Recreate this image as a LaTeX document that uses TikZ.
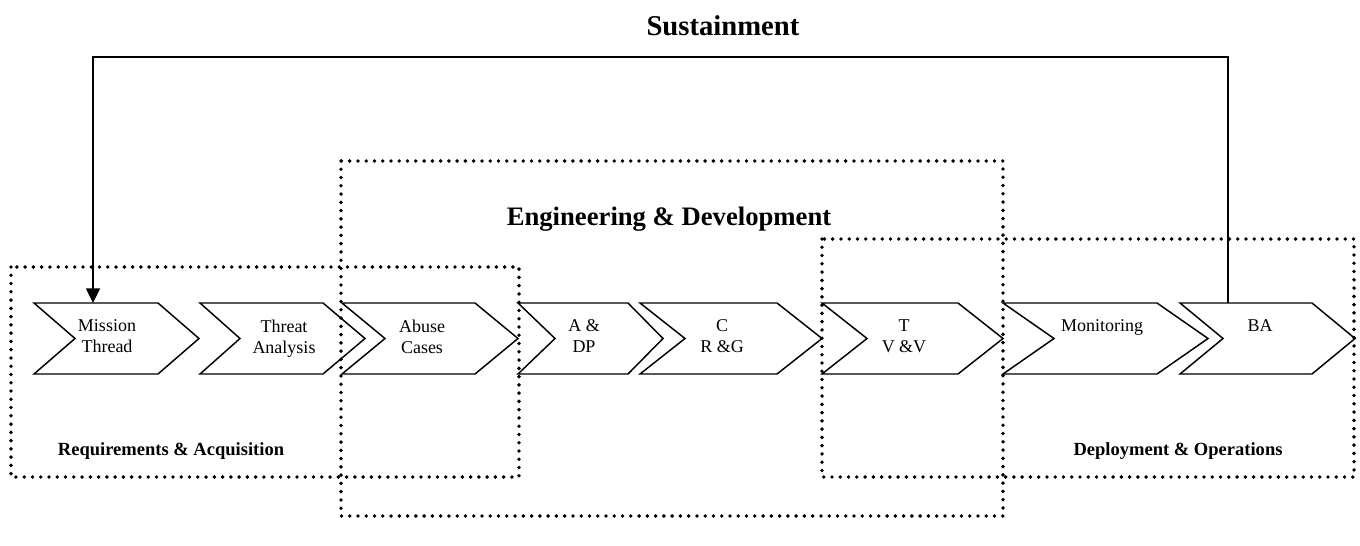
\documentclass[tikz,border=0pt]{standalone}
\usepackage{fontspec}
\setmainfont{Liberation Serif}
\usetikzlibrary{arrows.meta}
\newcommand{\chevron}[4]{%
  \draw[chev] (#1,303) -- (#3,303) -- (#4,338.5) -- (#3,374) -- (#1,374) -- (#2,338.5) -- cycle;}
\begin{document}
\begin{tikzpicture}[x=0.75pt,y=-0.75pt,
  chev/.style={draw,line width=1.1pt,line join=miter},
  dotbox/.style={draw,line width=2.9pt,line cap=round,dash pattern=on 0pt off 6.2pt},
  lbl/.style={align=center,font=\fontsize{13.5}{15.75}\selectfont,inner sep=0pt},
  bigtitle/.style={font=\fontsize{20}{24}\selectfont\bfseries,inner sep=0pt,anchor=base},
  phase/.style={font=\fontsize{13.9}{16}\selectfont\bfseries,inner sep=0pt,anchor=base},
  conn/.style={draw,line width=1.1pt,-{Triangle[length=11pt,width=10.5pt]}}
]
\useasboundingbox (0,0) rectangle (1360,546);

% dotted phase boxes
\draw[dotbox] (11,267) rectangle (519,477);
\draw[dotbox] (341,161) rectangle (1003,516);
\draw[dotbox] (822,239) rectangle (1354,477);

% chevrons
\chevron{34}{75}{158}{199}
\chevron{200}{240}{323}{365}
\chevron{342}{385}{475}{518}
\chevron{518}{555}{628}{663}
\chevron{640}{685}{777}{822}
\chevron{822}{867}{958}{1003}
\chevron{1003}{1054}{1157}{1208}
\chevron{1180}{1223}{1312}{1355}

% chevron labels
\node[lbl] (mt) at (107,336.5) {Mission\\Thread};
\node[lbl] (ta) at (284,338.5) {Threat\\Analysis};
\node[lbl] (ac) at (422,336.5) {Abuse\\Cases};
\node[lbl] (adp) at (584,336.5) {A \&\\DP};
\node[lbl] (crg) at (722,336.5) {C\\R \&G};
\node[lbl] (tvv) at (904,336.5) {T\\V \&V};
\node[lbl,anchor=base] (mon) at (1102,331) {Monitoring};
\node[lbl,anchor=base] (ba) at (1260,331) {BA};

% titles
\node[bigtitle,font=\fontsize{21.5}{25}\selectfont\bfseries] (sus) at (723,35) {Sustainment};
\node[bigtitle] (eng) at (669,225) {Engineering \& Development};
\node[phase] (req) at (171,455) {Requirements \& Acquisition};
\node[phase] (dep) at (1178,455) {Deployment \& Operations};

% sustainment feedback connector
\coordinate (batop) at (1228,303);
\coordinate (mttop) at (93,303);
\draw[conn] (batop) -- ++(0,-246) -| (mttop);
\end{tikzpicture}
\end{document}
